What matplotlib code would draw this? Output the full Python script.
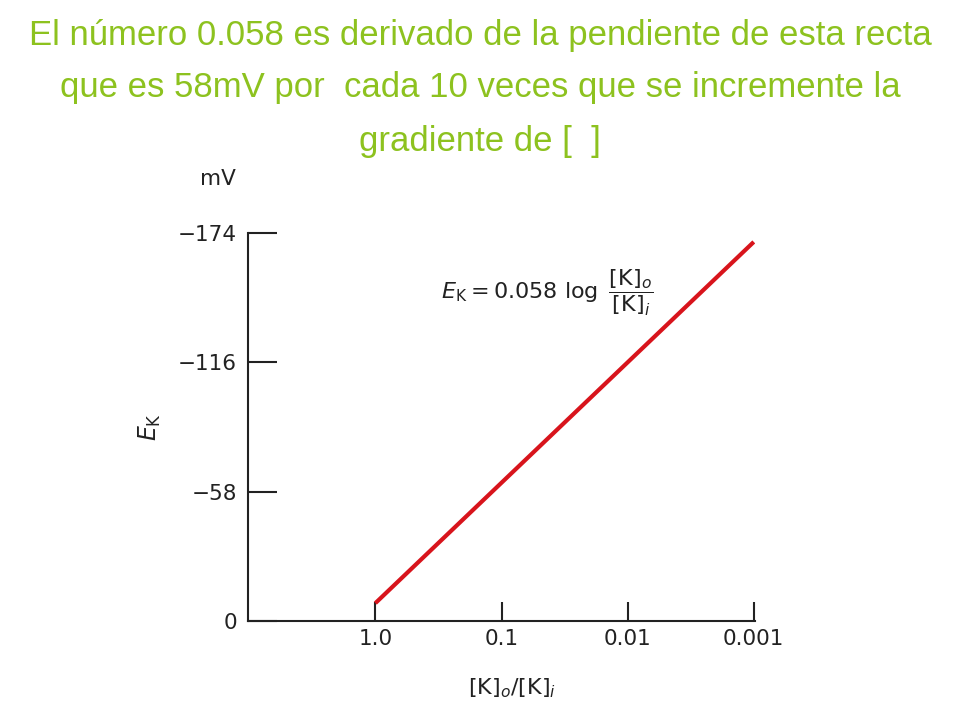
import numpy as np
import matplotlib
matplotlib.use("Agg")
import matplotlib.pyplot as plt

# --- data ---
ratio_ticks = [1.0, 0.1, 0.01, 0.001]
ratio_labels = ["1.0", "0.1", "0.01", "0.001"]
ek_ticks = [0, -58, -116, -174]
ek_labels = ["0", "\u221258", "\u2212116", "\u2212174"]

line_ratio = [1.0, 0.001]
line_ek = [-8, -170]

title_lines = [
    "El número 0.058 es derivado de la pendiente de esta recta",
    "que es 58mV por  cada 10 veces que se incremente la",
    "gradiente de [  ]",
]

plt.rcParams["mathtext.fontset"] = "dejavusans"

fig = plt.figure(figsize=(9.6, 7.2), dpi=100)
ax = fig.add_axes([0.2583, 0.1375, 0.5282, 0.5389])

x_line = -np.log10(line_ratio)
ax.plot(x_line, line_ek, color="#d8141c", lw=3, solid_capstyle="butt")

ax.set_xlim(-1.01, 3.01)
ax.set_ylim(0, -174)

ax.set_xticks(-np.log10(ratio_ticks))
ax.set_xticklabels(ratio_labels)
ax.set_yticks(ek_ticks)
ax.set_yticklabels(ek_labels)

for s in ["top", "right"]:
    ax.spines[s].set_visible(False)
for s in ["left", "bottom"]:
    ax.spines[s].set_linewidth(1.5)
    ax.spines[s].set_color("#222222")

ax.tick_params(axis="x", direction="in", length=14, width=1.5, pad=6,
               labelsize=15.5, colors="#222222")
ax.tick_params(axis="y", direction="in", length=21, width=1.5, pad=8,
               labelsize=15.5, colors="#222222")

ax.text(-1.79, -87, r"$E_{\mathrm{K}}$", rotation=90, fontsize=17,
        ha="center", va="center", color="#222222")
ax.text(-1.25, -198, "mV", fontsize=15.5, ha="center", va="center",
        color="#222222")
ax.text(1.08, 30, r"$[\mathrm{K}]_o/[\mathrm{K}]_i$", fontsize=16,
        ha="center", va="center", color="#222222")
ax.text(0.52, -147, r"$E_{\mathrm{K}} = 0.058\ \log\ \dfrac{[\mathrm{K}]_o}{[\mathrm{K}]_i}$",
        fontsize=16, ha="left", va="center", color="#222222")

for i, line in enumerate(title_lines):
    fig.text(0.5, 1 - (35 + 53 * i) / 720, line, ha="center", va="center",
             fontsize=25, color="#8dc21f",
             family=["Liberation Sans Narrow", "Liberation Sans", "DejaVu Sans"])

fig.savefig("out.png", dpi=100)
